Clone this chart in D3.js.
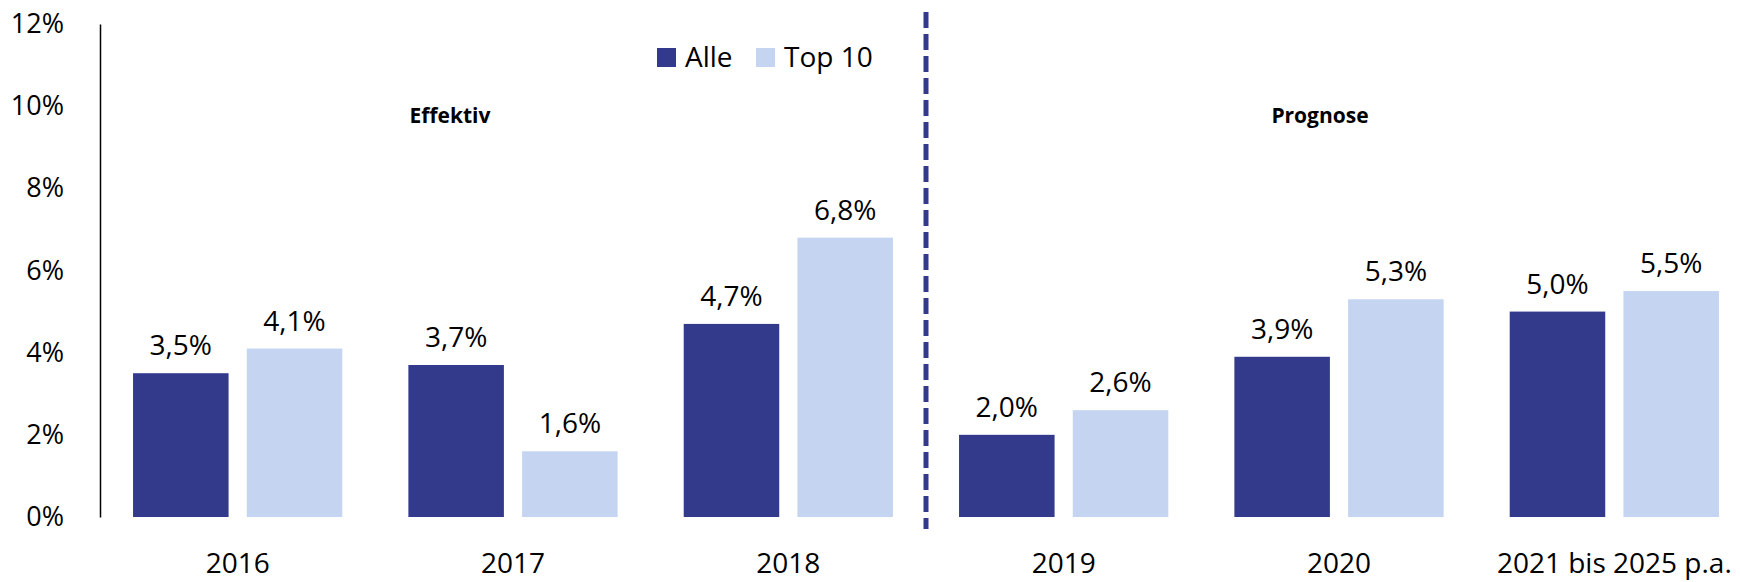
<!DOCTYPE html>
<html>
<head>
<meta charset="utf-8">
<script src="https://cdn.jsdelivr.net/npm/d3@7"></script>
<style>
  body { margin: 0; background: #fff; }
  text { font-family: "Open Sans", sans-serif; fill: #000; }
</style>
</head>
<body>
<svg id="drawing_region"></svg>
<script>
// data
const categories = ['2016', '2017', '2018', '2019', '2020', '2021 bis 2025 p.a.'];
const seriesNames = ['Alle', 'Top 10'];
const alle = [3.5, 3.7, 4.7, 2.0, 3.9, 5.0];
const top10 = [4.1, 1.6, 6.8, 2.6, 5.3, 5.5];
const yTicks = [0, 2, 4, 6, 8, 10, 12];
const sectionLabels = ['Effektiv', 'Prognose'];

const colors = { 'Alle': '#333a8c', 'Top 10': '#c5d5f1' };

const width = 1740, height = 582;
const margin = { top: 24, right: -12, bottom: 65, left: 100 };

const data = categories.map((c, i) => ({
    cat: c,
    values: [
        { key: 'Alle', value: alle[i] },
        { key: 'Top 10', value: top10[i] }
    ]
}));

const svg = d3.select('#drawing_region')
    .attr('width', width)
    .attr('height', height);

const x0 = d3.scaleBand()
    .domain(categories)
    .range([margin.left, width - margin.right])
    .paddingInner(0.24)
    .paddingOuter(0.12);

const x1 = d3.scaleBand()
    .domain(seriesNames)
    .range([0, x0.bandwidth()])
    .paddingInner(0.16);

const y = d3.scaleLinear()
    .domain([0, 12])
    .range([height - margin.bottom, margin.top]);

// y axis
const yAxis = svg.append('g')
    .attr('transform', `translate(${margin.left},0)`)
    .call(d3.axisLeft(y).tickValues(yTicks).tickSize(0).tickPadding(36).tickFormat(d => d + '%'));
yAxis.select('.domain').attr('stroke', '#000').attr('stroke-width', 1.5);
yAxis.selectAll('text')
    .style('font-family', '"Open Sans", sans-serif')
    .style('font-size', '27px')
    .attr('fill', '#111');

// x axis labels
const xAxis = svg.append('g')
    .attr('transform', `translate(0,${height - margin.bottom})`)
    .call(d3.axisBottom(x0).tickSize(0).tickPadding(36));
xAxis.select('.domain').remove();
xAxis.selectAll('text')
    .style('font-family', '"Open Sans", sans-serif')
    .style('font-size', '28px')
    .attr('fill', '#111');

// bars
const groups = svg.selectAll('.group')
    .data(data)
    .enter()
    .append('g')
    .attr('class', 'group')
    .attr('transform', d => `translate(${x0(d.cat)},0)`);

groups.selectAll('rect')
    .data(d => d.values)
    .enter()
    .append('rect')
    .attr('x', d => x1(d.key))
    .attr('y', d => y(d.value))
    .attr('width', x1.bandwidth())
    .attr('height', d => y(0) - y(d.value))
    .attr('fill', d => colors[d.key]);

groups.selectAll('.val')
    .data(d => d.values)
    .enter()
    .append('text')
    .attr('class', 'val')
    .attr('x', d => x1(d.key) + x1.bandwidth() / 2)
    .attr('y', d => y(d.value) - 18)
    .attr('text-anchor', 'middle')
    .style('font-size', '28px')
    .attr('fill', '#111')
    .text(d => d.value.toFixed(1).replace('.', ',') + '%');

// divider between effective and forecast
const divX = x0('2019') - x0.step() * x0.paddingInner() / 2;
svg.append('line')
    .attr('x1', divX).attr('x2', divX)
    .attr('y1', 12).attr('y2', y(0) + 12)
    .attr('stroke', '#333a8c')
    .attr('stroke-width', 5)
    .attr('stroke-dasharray', '16,6');

// section labels
svg.selectAll('.section')
    .data(sectionLabels)
    .enter()
    .append('text')
    .attr('class', 'section')
    .attr('x', (d, i) => i === 0 ? 450 : 1320)
    .attr('y', 123)
    .attr('text-anchor', 'middle')
    .style('font-size', '21px')
    .style('font-weight', 'bold')
    .text(d => d);

// legend
const legend = svg.append('g').attr('transform', 'translate(657,48)');
const li = legend.selectAll('.item')
    .data(seriesNames)
    .enter()
    .append('g')
    .attr('class', 'item')
    .attr('transform', (d, i) => `translate(${i === 0 ? 0 : 99},0)`);
li.append('rect')
    .attr('width', 19).attr('height', 19)
    .attr('fill', d => colors[d]);
li.append('text')
    .attr('x', 28).attr('y', 19)
    .style('font-size', '28px')
    .attr('fill', '#111')
    .text(d => d);
</script>
</body>
</html>
